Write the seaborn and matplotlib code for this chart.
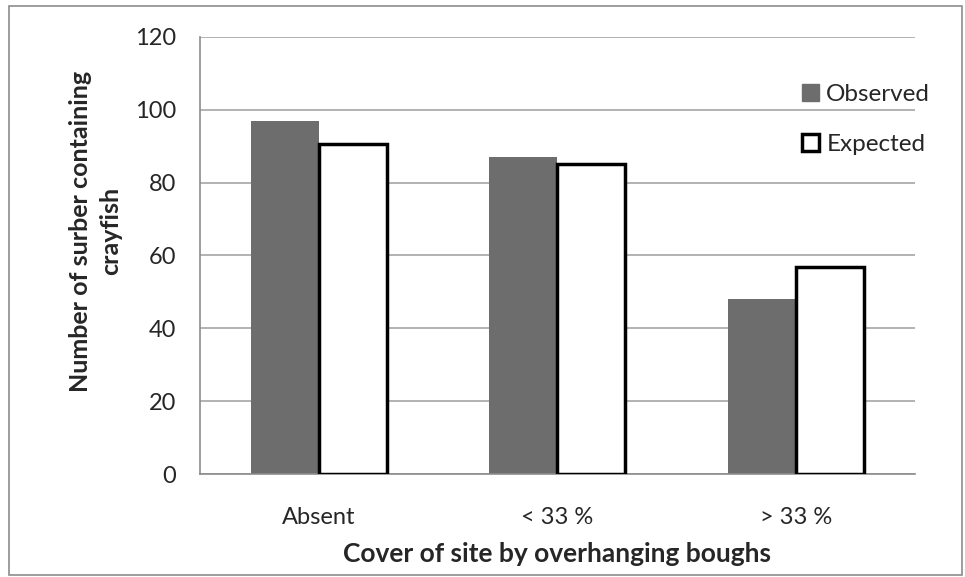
import pandas as pd
import numpy as np
import matplotlib
matplotlib.use('Agg')
import matplotlib.pyplot as plt
import seaborn as sns
from matplotlib.patches import Patch, Rectangle

# data
categories = ['Absent', '< 33 %', '> 33 %']
observed = [97, 87, 48]
expected = [90.5, 85, 56.7]
series_names = ['Observed', 'Expected']

sns.set_style('white')
plt.rcParams['font.family'] = ['Lato', 'DejaVu Sans']

df = pd.DataFrame({
    'cover': categories * 2,
    'count': observed + expected,
    'series': [series_names[0]] * 3 + [series_names[1]] * 3,
})

fig = plt.figure(figsize=(9.65, 5.77), dpi=100)
ax = fig.add_axes([0.207, 0.1785, 0.741, 0.7575])

sns.barplot(data=df, x='cover', y='count', hue='series', order=categories,
            hue_order=series_names, width=0.57, ax=ax, legend=False,
            palette=['#6d6d6d', 'white'], saturation=1)

# style the bars: grey filled vs. outlined white
for i, p in enumerate(ax.patches):
    if i < 3:
        p.set_facecolor('#6d6d6d')
        p.set_edgecolor('#6d6d6d')
        p.set_linewidth(0)
    else:
        p.set_facecolor('white')
        p.set_edgecolor('black')
        p.set_linewidth(2.5)
        p.set_zorder(3)

ax.set_ylim(0, 120)
ax.set_xlim(-0.5, 2.5)
ax.set_yticks(np.arange(0, 121, 20))
ax.yaxis.grid(True, color='#a6a6a6', linewidth=1.2)
ax.set_axisbelow(True)

for s in ['top', 'right']:
    ax.spines[s].set_visible(False)
for s in ['left', 'bottom']:
    ax.spines[s].set_color('#8c8c8c')
    ax.spines[s].set_linewidth(1.2)

ax.tick_params(axis='y', length=5, color='#8c8c8c', width=1.2, labelsize=17, pad=12)
ax.tick_params(axis='x', which='major', length=0, labelsize=17, pad=24)
ax.set_xticks([-0.5, 0.5, 1.5, 2.5], minor=True)
ax.tick_params(axis='x', which='minor', length=6.5, color='#8c8c8c', width=1.2)

ax.set_xlabel('Cover of site by overhanging boughs', fontsize=19, fontweight='bold', labelpad=10)
ax.set_ylabel('Number of surber containing\ncrayfish', fontsize=18, fontweight='bold',
              linespacing=1.35)
ax.yaxis.set_label_coords(-0.109, 0.556)

handles = [Patch(facecolor='#6d6d6d', edgecolor='#6d6d6d', label='Observed'),
           Patch(facecolor='white', edgecolor='black', linewidth=2.5, label='Expected')]
fig.legend(handles=handles, loc='upper left', bbox_to_anchor=(802 / 965, 1 - 84 / 577),
           frameon=False, fontsize=17.5, handlelength=0.7, handleheight=0.7,
           handletextpad=0.3, labelspacing=1.2, borderpad=0, borderaxespad=0)

# outer chart border
fig.patches.append(Rectangle((0.009, 0.003), 0.988, 0.986, transform=fig.transFigure,
                             fill=False, edgecolor='#8c8c8c', linewidth=1.2))

plt.savefig('out.png', dpi=100, facecolor='white')
